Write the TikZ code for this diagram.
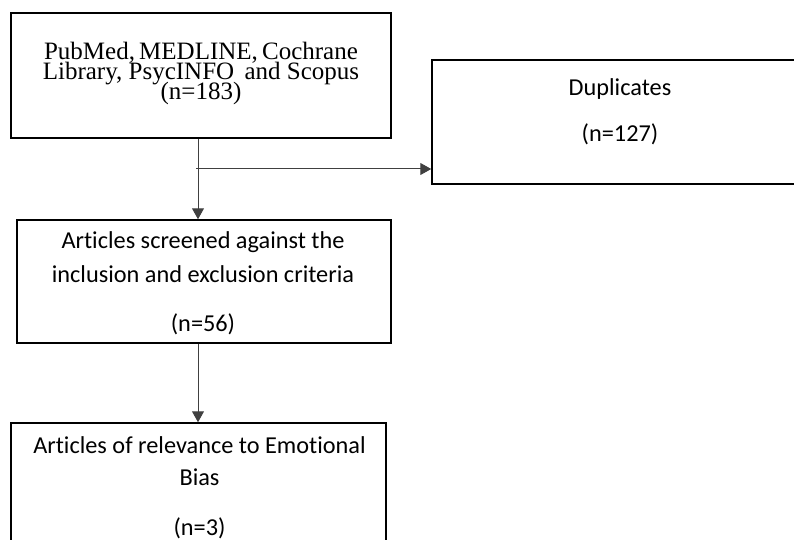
\documentclass[tikz,border=0pt]{standalone}
\usepackage{fontspec}
\setmainfont{Liberation Serif}
\newfontfamily\calfont[Ligatures=NoCommon]{Carlito}
\usetikzlibrary{arrows.meta}
\begin{document}
\begin{tikzpicture}[x=1pt,y=-1pt,
  box/.style={draw=black,line width=1.5pt,inner sep=0pt,rectangle},
  conn/.style={draw=black!75,line width=1pt},
  arr/.style={conn,-{Triangle[length=11pt,width=12pt]}},
  serif/.style={anchor=base,inner sep=0pt,font=\fontsize{25}{25}\selectfont},
  sans/.style={anchor=base,inner sep=0pt,font=\calfont\fontsize{24.3}{24}\selectfont}]
\useasboundingbox (0,0) rectangle (794,540);
\fill[white] (0,0) rectangle (794,540);
% boxes
\node[box,minimum width=380pt,minimum height=125pt] (b1) at (201,75.5) {};
\node[box,minimum width=398pt,minimum height=124pt] (b2) at (631,122) {};
\node[box,minimum width=374pt,minimum height=123pt] (b3) at (204,281.5) {};
\node[box,minimum width=375pt,minimum height=147pt] (b4) at (198.5,496.5) {};
% texts
\node[serif] (t1a) at (201,59.5) {PubMed,\,MEDLINE,\,Cochrane};
\node[serif] (t1b) at (201,79.5) {Library, PsycINFO\, and Scopus};
\node[serif] (t1c) at (201,99.5) {(n=183)};
\node[sans] (t2a) at (620,96) {Duplicates};
\node[sans] (t2b) at (620,142) {(n=127)};
\node[sans] (t3a) at (203,248) {Articles screened against the};
\node[sans] (t3b) at (203,282) {inclusion and exclusion criteria};
\node[sans] (t3c) at (203,331) {(n=56)};
\node[sans] (t4a) at (199.5,453) {Articles of relevance to Emotional};
\node[sans] (t4b) at (199.5,485) {Bias};
\node[sans] (t4c) at (199.5,535) {(n=3)};
% connectors
\coordinate (split) at (198,169);
\draw[arr] (split |- b1.south) -- (split |- b3.north);
\draw[arr] ([xshift=-2pt]split) -- (split -| b2.west);
\draw[arr] (split |- b3.south) -- (split |- b4.north);
\end{tikzpicture}
\end{document}
